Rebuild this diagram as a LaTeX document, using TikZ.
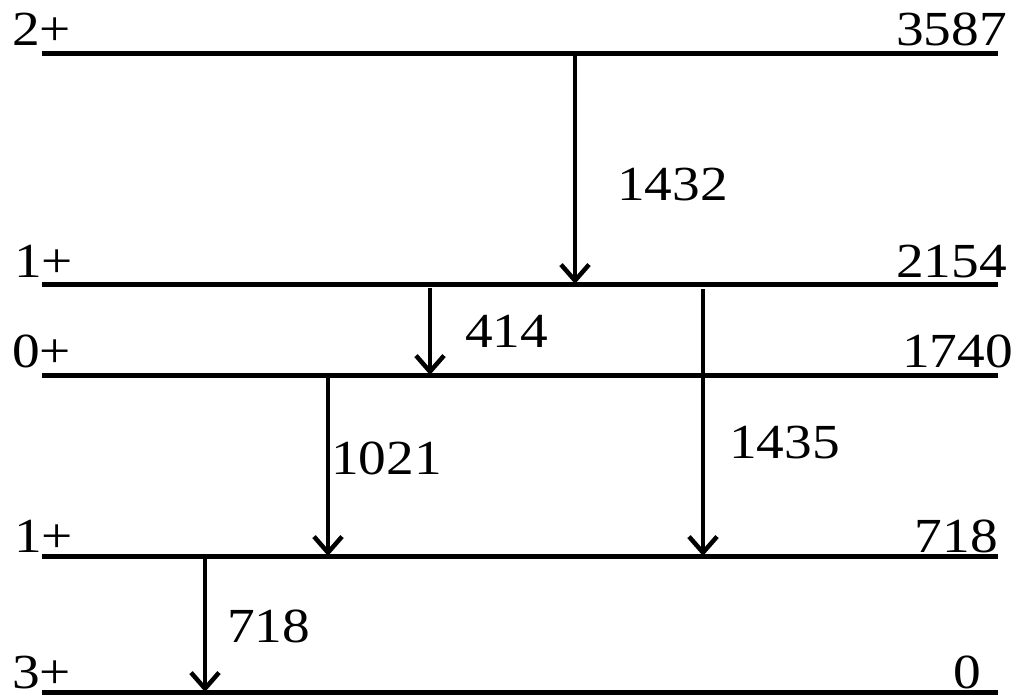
\documentclass[tikz,border=0pt]{standalone}
\usepackage{fontspec}
\setmainfont{Liberation Serif}
\usetikzlibrary{arrows.meta}
\newcommand{\wide}[1]{\scalebox{1.13}[1]{#1}}
\begin{document}
\begin{tikzpicture}[x=1pt,y=-1pt,
  level/.style={line width=5pt},
  trans/.style={line width=4.5pt,-{Straight Barb[length=16pt,width=28pt,line width=4.5pt]}},
  lbl/.style={inner sep=0pt,font=\fontsize{49}{58}\selectfont}]
\useasboundingbox (0,0) rectangle (1023,697);
% levels
\foreach \n/\y in {a/53,b/284,c/375,d/556,e/692}{
  \coordinate (\n L) at (42,\y);
  \coordinate (\n R) at (998,\y);
}
\foreach \n in {a,b,c,d,e}{\draw[level] (\n L) -- (\n R);}
% left labels
\node[lbl,anchor=base west] (sa) at (12,45) {\wide{2+}};
\node[lbl,anchor=base west] (sb) at (14,277) {\wide{1+}};
\node[lbl,anchor=base west] (sc) at (12,367) {\wide{0+}};
\node[lbl,anchor=base west] (sd) at (14,552) {\wide{1+}};
\node[lbl,anchor=base west] (se) at (12,688) {\wide{3+}};
% right labels
\node[lbl,anchor=base east] (ea) at (1007,45) {\wide{3587}};
\node[lbl,anchor=base east] (eb) at (1007,277) {\wide{2154}};
\node[lbl,anchor=base east] (ec) at (1013,367) {\wide{1740}};
\node[lbl,anchor=base east] (ed) at (998,552) {\wide{718}};
\node[lbl,anchor=base east] (ee) at (981,688) {\wide{0}};
% transitions
\coordinate (t1s) at (575,55);  \coordinate (t1e) at (575,284);
\coordinate (t2s) at (430,288); \coordinate (t2e) at (430,375);
\coordinate (t3s) at (328,377); \coordinate (t3e) at (328,556);
\coordinate (t4s) at (703,289); \coordinate (t4e) at (703,556);
\coordinate (t5s) at (205,558); \coordinate (t5e) at (205,692);
\draw[trans] (t1s) -- (t1e);
\draw[trans] (t2s) -- (t2e);
\draw[trans] (t3s) -- (t3e);
\draw[trans] (t4s) -- (t4e);
\draw[trans] (t5s) -- (t5e);
% transition labels
\node[lbl,anchor=base west] (g1) at (617,200) {\wide{1432}};
\node[lbl,anchor=base west] (g2) at (465,347) {\wide{414}};
\node[lbl,anchor=base west] (g3) at (331,474) {\wide{1021}};
\node[lbl,anchor=base west] (g4) at (729,458) {\wide{1435}};
\node[lbl,anchor=base west] (g5) at (227,642) {\wide{718}};
\end{tikzpicture}
\end{document}
